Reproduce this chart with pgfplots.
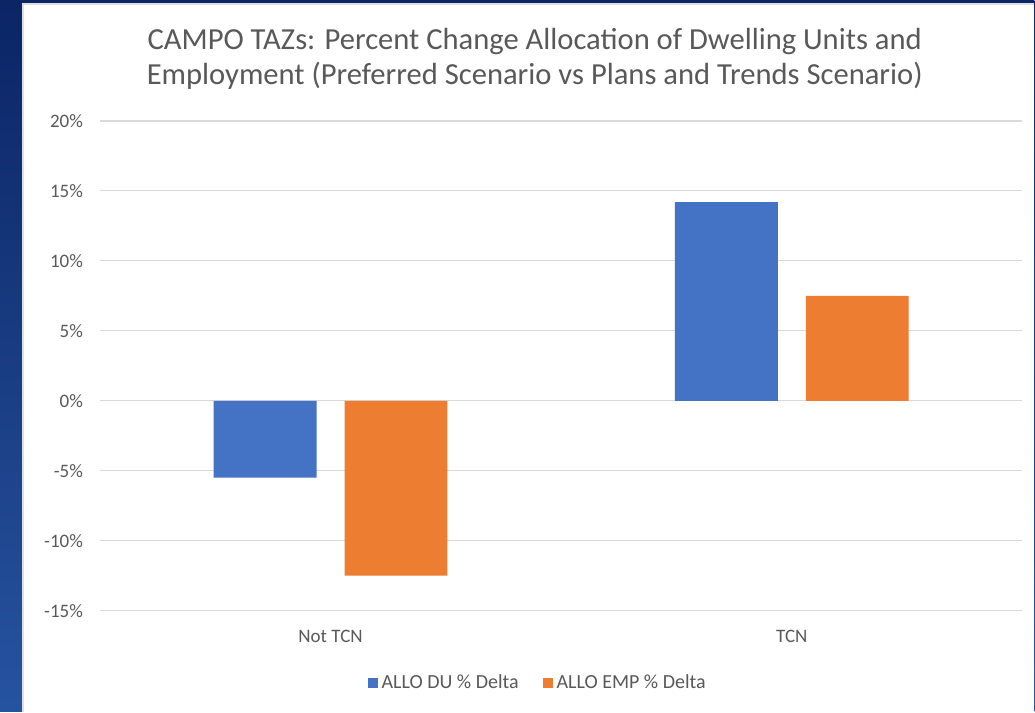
\documentclass[border=0pt]{standalone}
\usepackage{pgfplots}
\pgfplotsset{compat=1.18}
\usepackage{fontspec}
\setmainfont{Carlito}
\definecolor{dublue}{HTML}{4472C4}
\definecolor{emporange}{HTML}{ED7D31}
\definecolor{txtgray}{HTML}{595959}
\definecolor{gridgray}{HTML}{D9D9D9}
\definecolor{navytop}{HTML}{0B2565}
\definecolor{navybot}{HTML}{26539F}
\begin{document}
\begin{tikzpicture}
\shade[top color=navytop, bottom color=navybot] (0,0) rectangle (517.5pt,356pt);
\fill[white] (11pt,0) rectangle (517.5pt,354.5pt);
\draw[gray!25, line width=0.6pt] (11.5pt,0) -- (11.5pt,354pt) -- (517.5pt,354pt);
\node[txtgray, font=\fontsize{15.3}{17.8}\selectfont, align=center] at (267.5pt,326.5pt)
  {CAMPO TAZs: Percent Change Allocation of Dwelling Units and\\Employment (Preferred Scenario vs Plans and Trends Scenario)};
\begin{axis}[
  at={(50pt,50.5pt)}, anchor=south west, scale only axis,
  width=461.5pt, height=245pt,
  xmin=-0.5, xmax=1.5, ymin=-15, ymax=20,
  ybar, bar width=51.5pt, ybar=14pt,
  axis line style={draw=none},
  tick style={draw=none},
  xtick={0,1}, xticklabels={Not TCN, TCN},
  ytick={-15,-10,-5,0,5,10,15,20},
  yticklabels={-15\%,-10\%,-5\%,0\%,5\%,10\%,15\%,20\%},
  ymajorgrids, grid style={gridgray, line width=0.6pt},
  tick label style={txtgray, font=\fontsize{9.5}{11}\selectfont},
  yticklabel style={xshift=-5pt},
  xticklabel style={yshift=-2pt},
  legend style={at={(0.4756,-0.147)}, anchor=center, draw=none, fill=none,
    font=\fontsize{10}{12}\selectfont, text=txtgray,
    /tikz/every even column/.append style={column sep=10pt}},
  legend columns=-1,
  legend cell align=left,
]
\addplot[fill=dublue, draw=none,
  legend image code/.code={\fill[dublue] (0pt,-2.5pt) rectangle (5pt,2.5pt);}]
  coordinates {(0,-5.5) (1,14.2)};
\addplot[fill=emporange, draw=none,
  legend image code/.code={\fill[emporange] (0pt,-2.5pt) rectangle (5pt,2.5pt);}]
  coordinates {(0,-12.5) (1,7.5)};
\legend{ALLO DU \% Delta, ALLO EMP \% Delta}
\end{axis}
\end{tikzpicture}
\end{document}
